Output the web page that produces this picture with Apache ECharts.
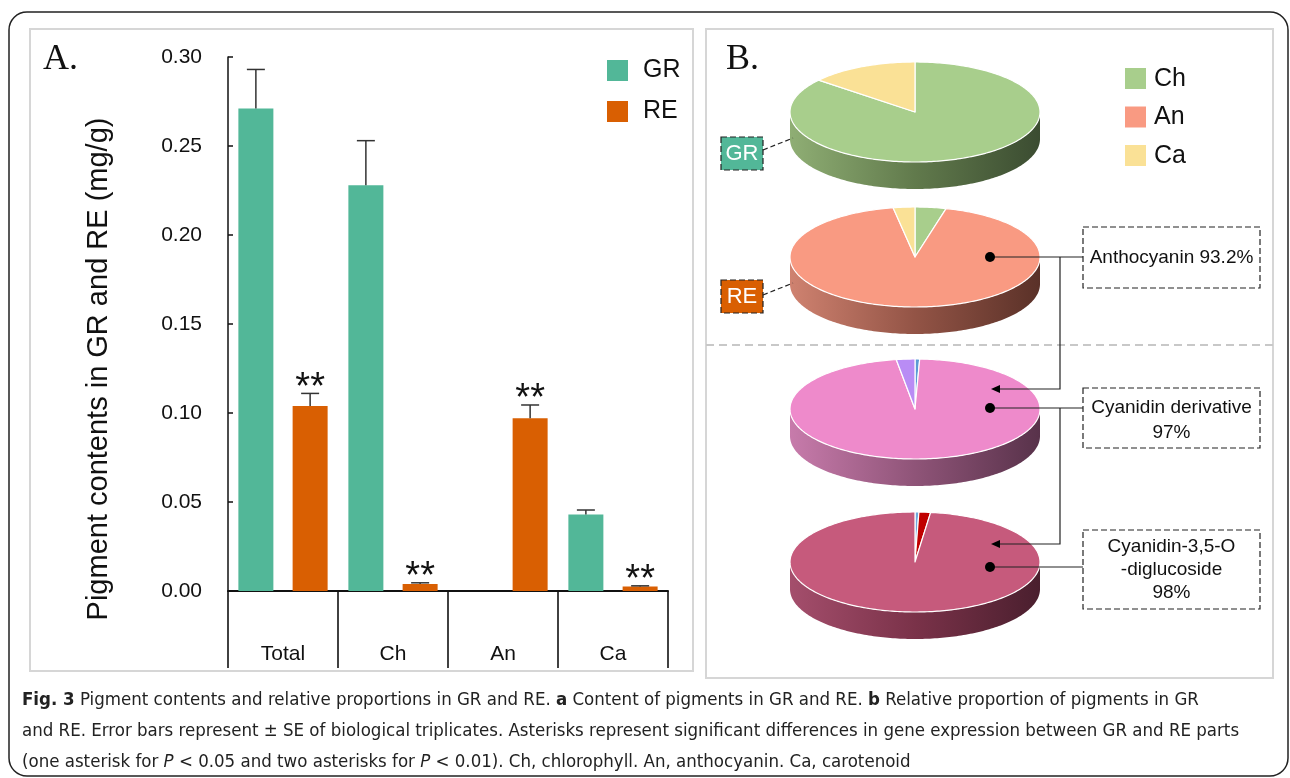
<!DOCTYPE html>
<html>
<head>
<meta charset="utf-8">
<title>Pigment contents and relative proportions in GR and RE</title>
<script src="https://cdn.jsdelivr.net/npm/echarts@6/dist/echarts.min.js"></script>
<style>
  html, body { margin: 0; padding: 0; background: #fff; }
  #chart { width: 1290px; height: 778px; }
</style>
</head>
<body>
<div id="chart"></div>
<script>
// ---- Panel A: pigment contents (mg/g) ----
const categories = ['Total', 'Ch', 'An', 'Ca'];
const grMean = [0.271, 0.228, 0, 0.043];
const grSE   = [0.022, 0.025, 0, 0.0025];
const reMean = [0.104, 0.004, 0.097, 0.0025];
const reSE   = [0.007, 0.0006, 0.0075, 0.0004];
const reSignif = ['**', '**', '**', '**'];

// ---- Panel B: relative proportions (%), listed clockwise from 12 o'clock ----
const pieGRNames  = ['Ch', 'Ca'];
const pieGRValues = [86.0, 14.0];
const pieRENames  = ['Ch', 'An', 'Ca'];
const pieREValues = [4.0, 93.2, 2.8];
const pieCyNames  = ['Other anthocyanin A', 'Cyanidin derivative', 'Other anthocyanin B'];
const pieCyValues = [0.6, 97.0, 2.4];
const pieC35Names  = ['Other cyanidin A', 'Other cyanidin B', 'Cyanidin-3,5-O-diglucoside'];
const pieC35Values = [0.5, 1.5, 98.0];

const GR_COLOR = '#52b798';
const RE_COLOR = '#d95f02';
const SANS = '"Liberation Sans", Arial, sans-serif';
const SERIF = '"Liberation Serif", "Times New Roman", serif';
const CAP_FONT = '"Liberation Sans Narrow", "DejaVu Sans Condensed", "Liberation Sans", sans-serif';

const BAR_W = 35;
const BAR_GAP = 0.55;
const BAR_OFFSET = BAR_W * (1 + BAR_GAP) / 2;

// error bar (+SE) with optional significance mark above it
function errorSeries(name, means, ses, dir, marks) {
  return {
    type: 'custom',
    name: name,
    silent: true,
    z: 4,
    data: means.map((m, i) => [i, m, m + ses[i]]),
    encode: { x: 0, y: [1, 2] },
    renderItem: function (params, api) {
      const i = api.value(0);
      const m = api.value(1);
      const t = api.value(2);
      const children = [];
      const base = api.coord([i, m]);
      const top = api.coord([i, t]);
      const x = base[0] + dir * BAR_OFFSET;
      if (t > m) {
        children.push({ type: 'line', shape: { x1: x, y1: base[1], x2: x, y2: top[1] },
          style: { stroke: '#333', lineWidth: 1.5 } });
        children.push({ type: 'line', shape: { x1: x - 9, y1: top[1], x2: x + 9, y2: top[1] },
          style: { stroke: '#333', lineWidth: 1.5 } });
      }
      if (marks && marks[i]) {
        children.push({ type: 'text', x: x, y: top[1] - 5,
          style: { text: marks[i], font: '38px ' + SANS, fill: '#111',
            align: 'center', verticalAlign: 'middle' } });
      }
      return { type: 'group', children: children };
    }
  };
}

// pseudo-3D pie: elliptical top face plus shaded front wall
const RX = 125, RY = 50, DEPTH = 27;
function pie3D(id, names, values, colors, wall, cx, cy) {
  const total = values.reduce((a, b) => a + b, 0);
  const starts = [];
  let acc = 0;
  values.forEach(v => { starts.push(acc); acc += v; });
  const wallFill = new echarts.graphic.LinearGradient(cx - RX, 0, cx + RX, 0, [
    { offset: 0, color: wall[0] }, { offset: 0.5, color: wall[1] }, { offset: 1, color: wall[2] }
  ], true);
  const pt = (a, dy) => [cx + RX * Math.sin(a), cy - RY * Math.cos(a) + (dy || 0)];
  return {
    type: 'custom',
    id: id,
    coordinateSystem: 'none',
    silent: true,
    z: 3,
    data: values.map((v, i) => ({ name: names[i], value: [v, starts[i]] })),
    renderItem: function (params, api) {
      const v = api.value(0), s = api.value(1);
      const a0 = s / total * 2 * Math.PI, a1 = (s + v) / total * 2 * Math.PI;
      const children = [];
      const b0 = Math.max(a0, Math.PI / 2), b1 = Math.min(a1, 1.5 * Math.PI);
      if (b1 > b0) {
        const n = Math.max(2, Math.ceil((b1 - b0) / 0.02));
        const up = [], down = [];
        for (let k = 0; k <= n; k++) {
          const a = b0 + (b1 - b0) * k / n;
          up.push(pt(a));
          down.push(pt(a, DEPTH));
        }
        children.push({ type: 'polygon', z2: 1, shape: { points: up.concat(down.reverse()) },
          style: { fill: wallFill } });
      }
      const pts = [[cx, cy]];
      const n = Math.max(2, Math.ceil((a1 - a0) / 0.02));
      for (let k = 0; k <= n; k++) pts.push(pt(a0 + (a1 - a0) * k / n));
      children.push({ type: 'polygon', z2: 5, shape: { points: pts },
        style: { fill: colors[params.dataIndex], stroke: '#fff', lineWidth: 1.2, lineJoin: 'round' } });
      return { type: 'group', children: children };
    }
  };
}

const PCX = 915;
const pieSeries = [
  pie3D('pieGR', pieGRNames, pieGRValues, ['#a8ce8c', '#fae196'],
        ['#8fae74', '#617a4c', '#3b4c31'], PCX, 112),
  pie3D('pieRE', pieRENames, pieREValues, ['#a8ce8c', '#f99a82', '#fae196'],
        ['#cf8270', '#935446', '#5a3128'], PCX, 257),
  pie3D('pieCy', pieCyNames, pieCyValues, ['#5b9bd5', '#ee8acb', '#b98cf5'],
        ['#c77bab', '#8f5478', '#58324a'], PCX, 409),
  pie3D('pieC35', pieC35Names, pieC35Values, ['#6fa8dc', '#c00000', '#c65a7c'],
        ['#a44e6c', '#7a3249', '#4a1f2e'], PCX, 562)
];

// ---- static decorations ----
const dashBox = (x, y, w, h, fill) => ({
  type: 'rect', shape: { x: x, y: y, width: w, height: h },
  style: { fill: fill || '#fff', stroke: '#222', lineWidth: 1.2, lineDash: [6, 3] }, z: 10
});
const line = (pts, extra) => ({
  type: 'polyline', shape: { points: pts },
  style: Object.assign({ stroke: '#222', lineWidth: 1.2, fill: null }, extra || {}), z: 10
});
const dot = (x, y) => ({ type: 'circle', shape: { cx: x, cy: y, r: 5 }, style: { fill: '#000' }, z: 11 });
const arrow = (x, y) => ({ type: 'polygon', shape: { points: [[x, y], [x + 9, y - 4], [x + 9, y + 4]] },
  style: { fill: '#000' }, z: 11 });
const txt = (x, y, text, font, fill, align, extra) => ({
  type: 'text', x: x, y: y, z: 12,
  style: Object.assign({ text: text, font: font, fill: fill || '#111',
    align: align || 'left', verticalAlign: 'middle' }, extra || {})
});

const legendB = [['Ch', '#a8ce8c'], ['An', '#f99a82'], ['Ca', '#fae196']];

const CAP_SIZE = 18.5;
const capRich = {
  b: { fontFamily: CAP_FONT, fontSize: CAP_SIZE, fontWeight: 'bold', fill: '#222' },
  i: { fontFamily: CAP_FONT, fontSize: CAP_SIZE, fontStyle: 'italic', fill: '#222' }
};
const capLines = [
  '{b|Fig. 3} Pigment contents and relative proportions in GR and RE. {b|a} Content of pigments in GR and RE. {b|b} Relative proportion of pigments in GR',
  'and RE. Error bars represent \u00b1 SE of biological triplicates. Asterisks represent significant differences in gene expression between GR and RE parts',
  '(one asterisk for {i|P} < 0.05 and two asterisks for {i|P} < 0.01). Ch, chlorophyll. An, anthocyanin. Ca, carotenoid'
];

const graphics = [
  { type: 'rect', shape: { x: 9, y: 12, width: 1279, height: 764, r: 18 },
    style: { fill: null, stroke: '#222', lineWidth: 1.5 }, z: 0 },
  { type: 'rect', shape: { x: 30, y: 29, width: 663, height: 642 },
    style: { fill: null, stroke: '#d6d6d6', lineWidth: 2 }, z: 0 },
  { type: 'rect', shape: { x: 706, y: 29, width: 567, height: 649 },
    style: { fill: null, stroke: '#d6d6d6', lineWidth: 2 }, z: 0 },
  txt(43, 60, 'A.', '36px ' + SERIF, '#111'),
  txt(726, 60, 'B.', '36px ' + SERIF, '#111'),
  // y-axis title of panel A
  { type: 'text', x: 99, y: 369, rotation: Math.PI / 2, z: 12,
    style: { text: 'Pigment contents in GR and RE (mg/g)', font: '29px ' + SANS, fill: '#111',
      align: 'center', verticalAlign: 'middle' } },
  line([[706, 345], [1273, 345]], { stroke: '#c8c8c8', lineWidth: 2, lineDash: [8, 5] }),
  // sample tags
  dashBox(721, 137, 42, 33, GR_COLOR),
  txt(742, 154, 'GR', '22px ' + SANS, '#fff', 'center'),
  line([[763, 150], [793, 138]], { lineDash: [5, 3] }),
  dashBox(721, 280, 42, 33, RE_COLOR),
  txt(742, 297, 'RE', '22px ' + SANS, '#fff', 'center'),
  line([[763, 295], [793, 283]], { lineDash: [5, 3] })
];
legendB.forEach((d, k) => {
  const y = 68 + k * 38.5;
  graphics.push({ type: 'rect', shape: { x: 1125, y: y, width: 21, height: 21 }, style: { fill: d[1] }, z: 10 });
  graphics.push(txt(1154, y + 11, d[0], '25px ' + SANS, '#111'));
});
graphics.push(
  // anthocyanin share of RE
  dashBox(1083, 227, 177, 61),
  txt(1171.5, 258, 'Anthocyanin ' + pieREValues[1] + '%', '19px ' + SANS, '#111', 'center'),
  dot(990, 257), line([[990, 257], [1083, 257]]),
  line([[1060, 257], [1060, 389], [999, 389]]), arrow(991, 389),
  // cyanidin derivative share
  dashBox(1083, 388, 177, 60),
  txt(1171.5, 420, 'Cyanidin derivative\n' + pieCyValues[1] + '%', '19px ' + SANS, '#111', 'center', { lineHeight: 25 }),
  dot(990, 408), line([[990, 408], [1083, 408]]),
  line([[1060, 408], [1060, 544], [999, 544]]), arrow(991, 544),
  // cyanidin-3,5-O-diglucoside share
  dashBox(1083, 530, 177, 79),
  txt(1171.5, 570, 'Cyanidin-3,5-O\n-diglucoside\n' + pieC35Values[2] + '%', '19px ' + SANS, '#111', 'center', { lineHeight: 23 }),
  dot(990, 567), line([[990, 567], [1083, 567]])
);
capLines.forEach((t, k) => {
  graphics.push({ type: 'text', x: 22, y: 700 + k * 31, z: 12,
    style: { text: t, rich: capRich, fontFamily: CAP_FONT, fontSize: CAP_SIZE, fill: '#222', verticalAlign: 'middle' } });
});

const chart = echarts.init(document.getElementById('chart'), null, { renderer: 'canvas' });
chart.setOption({
  backgroundColor: '#fff',
  animation: false,
  textStyle: { fontFamily: SANS },
  legend: {
    data: ['GR', 'RE'], orient: 'vertical', left: 602, top: 53,
    icon: 'rect', itemWidth: 21, itemHeight: 21, itemGap: 16,
    textStyle: { fontSize: 25, color: '#111', fontFamily: SANS, padding: [0, 0, 0, 10] },
    selectedMode: false
  },
  grid: { left: 228, top: 57, width: 440, height: 534 },
  xAxis: {
    type: 'category', data: categories,
    axisLine: { lineStyle: { color: '#111', width: 2 } },
    axisTick: { show: true, length: 77, lineStyle: { color: '#111', width: 1.6 } },
    axisLabel: { margin: 53, fontSize: 21, color: '#111', fontFamily: SANS }
  },
  yAxis: {
    type: 'value', min: 0, max: 0.3, interval: 0.05,
    axisLine: { show: true, lineStyle: { color: '#111', width: 1.5 } },
    axisTick: { show: true, inside: true, length: 5, lineStyle: { color: '#111', width: 1.5 } },
    splitLine: { show: false },
    axisLabel: { formatter: v => v.toFixed(2), fontSize: 21, color: '#111', margin: 26, fontFamily: SANS }
  },
  series: [
    { type: 'bar', name: 'GR', data: grMean, barWidth: BAR_W, barGap: (BAR_GAP * 100) + '%',
      itemStyle: { color: GR_COLOR }, silent: true, z: 2 },
    { type: 'bar', name: 'RE', data: reMean, barWidth: BAR_W,
      itemStyle: { color: RE_COLOR }, silent: true, z: 2 },
    errorSeries('GR SE', grMean, grSE, -1, null),
    errorSeries('RE SE', reMean, reSE, 1, reSignif)
  ].concat(pieSeries),
  graphic: graphics
});
</script>
</body>
</html>
